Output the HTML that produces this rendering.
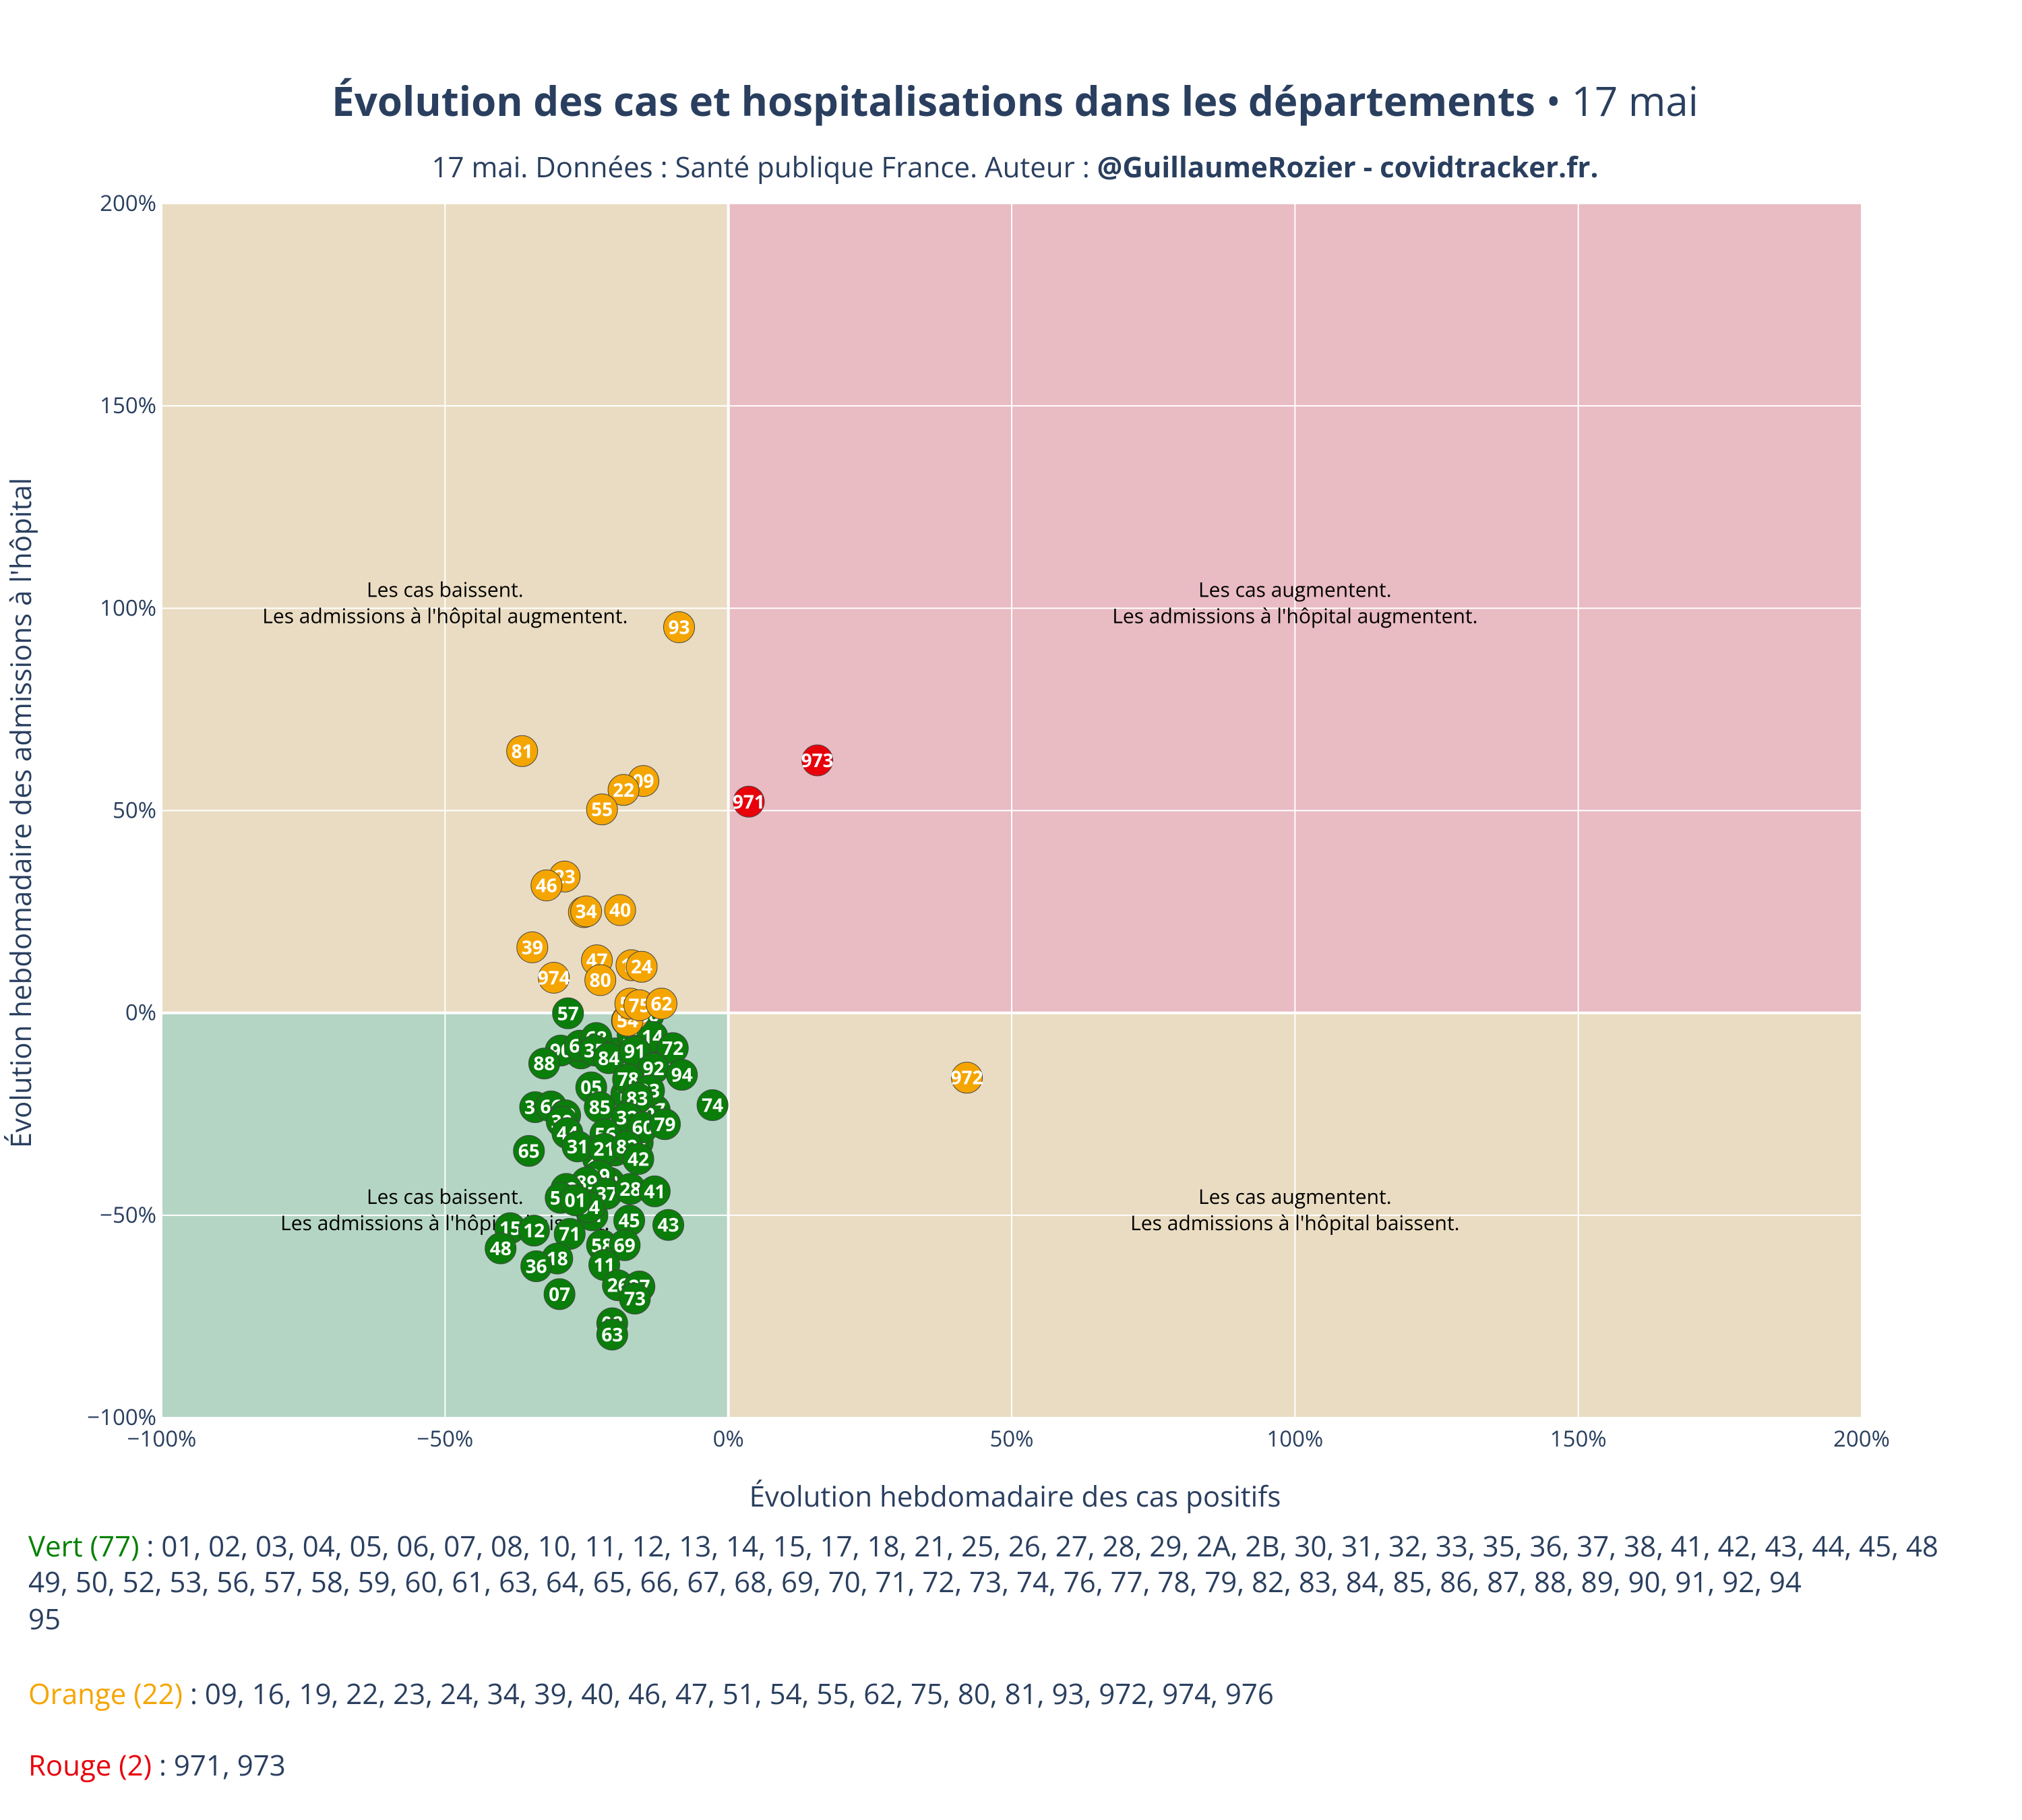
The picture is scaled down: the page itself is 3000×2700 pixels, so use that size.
<!DOCTYPE html>
<html><head><meta charset="utf-8"><style>
html,body{margin:0;padding:0;background:#fff;}
svg{display:block;font-family:"Open Sans","Liberation Sans",sans-serif;}
</style></head><body>
<svg id="chart" width="3000" height="2700" viewBox="0 0 3000 2700" xmlns="http://www.w3.org/2000/svg">
<text x="1506" y="172" text-anchor="middle" font-size="60" fill="#2a3f5f"><tspan font-weight="bold">Évolution des cas et hospitalisations dans les départements</tspan> • 17 mai</text>
<text x="1506" y="263" text-anchor="middle" font-size="42" fill="#2a3f5f">17 mai. Données : Santé publique France. Auteur : <tspan font-weight="bold">@GuillaumeRozier - covidtracker.fr.</tspan></text>
<g id="bg"></g><g id="grid"></g><g id="ann"></g><g id="marks"></g><g id="ticks"></g>
<text x="1506" y="2235" text-anchor="middle" font-size="42" fill="#2a3f5f">Évolution hebdomadaire des cas positifs</text>
<text transform="translate(46,1206) rotate(-90)" text-anchor="middle" font-size="42" fill="#2a3f5f">Évolution hebdomadaire des admissions à l'hôpital</text>
<g font-size="42" fill="#2a3f5f">
<text x="42" y="2309"><tspan fill="#008000">Vert (77)</tspan> : 01, 02, 03, 04, 05, 06, 07, 08, 10, 11, 12, 13, 14, 15, 17, 18, 21, 25, 26, 27, 28, 29, 2A, 2B, 30, 31, 32, 33, 35, 36, 37, 38, 41, 42, 43, 44, 45, 48</text>
<text x="42" y="2362">49, 50, 52, 53, 56, 57, 58, 59, 60, 61, 63, 64, 65, 66, 67, 68, 69, 70, 71, 72, 73, 74, 76, 77, 78, 79, 82, 83, 84, 85, 86, 87, 88, 89, 90, 91, 92, 94</text>
<text x="42" y="2417">95</text>
<text x="42" y="2528"><tspan fill="#f5a500">Orange (22)</tspan> : 09, 16, 19, 22, 23, 24, 34, 39, 40, 46, 47, 51, 54, 55, 62, 75, 80, 81, 93, 972, 974, 976</text>
<text x="42" y="2634"><tspan fill="#e8000b">Rouge (2)</tspan> : 971, 973</text>
</g>
</svg>
<script>
const xTicks=[-100,-50,0,50,100,150,200];
const yTicks=[-100,-50,0,50,100,150,200];
const greenLabels=["03","06","10","13","17","25","2A","2B","49","50","53","59","61","67","77","87","57","86","76","95","14","72","90","64","68","35","84","91","88","92","78","94","33","05","83","38","66","70","30","85","74","32","60","79","44","56","31","21","82","42","65","29","89","37","28","41","02","52","04","01","45","43","15","12","71","48","58","69","18","36","11","26","27","73","07","08","63"];
const greenX=[-17,-20,-25,-18,-16,-23,-21,-26,-14,-19,-22,-15,-24,-13,-20,-18,-28.3,-14.1,-17.9,-16.9,-13.4,-9.8,-29.6,-26.2,-23.3,-23.6,-21.1,-16.5,-32.5,-13.2,-17.7,-8.2,-14.0,-24.2,-16.1,-34.1,-31.3,-28.8,-29.4,-22.7,-2.8,-17.9,-15.1,-11.2,-28.4,-21.7,-26.6,-21.9,-17.9,-15.9,-35.2,-22.8,-25.0,-21.5,-17.3,-13.0,-28.6,-29.6,-24.6,-27.0,-17.5,-10.6,-38.5,-34.3,-28.0,-40.2,-22.3,-18.3,-30.2,-33.9,-21.9,-19.5,-15.7,-16.5,-29.8,-20.5,-20.5];
const greenY=[-3,-10,-47,-20,-32,-36,-42,-10,-8,-30,-44,-18,-50,-24,-34,-12,-0.1,-0.5,-1.9,-5.3,-5.9,-8.7,-9.3,-8.1,-6.2,-9.3,-11.2,-9.5,-12.5,-13.7,-16.4,-15.3,-19.2,-18.4,-21.1,-23.3,-23.1,-25.3,-26.9,-23.3,-22.8,-25.9,-28.3,-27.5,-29.7,-30.0,-33.0,-33.6,-33.0,-36.1,-34.1,-40.2,-41.9,-44.7,-43.5,-44.1,-43.5,-45.7,-48.0,-46.3,-51.3,-52.4,-53.2,-53.8,-54.6,-58.2,-57.4,-57.4,-60.7,-62.6,-62.3,-67.3,-67.6,-70.6,-69.5,-76.7,-79.5];
const orangeLabels=["93","81","09","22","55","23","46","19","34","40","39","47","16","24","974","80","976","54","51","75","62","972"];
const orangeX=[-8.7,-36.4,-15.0,-18.5,-22.3,-28.9,-32.1,-25.5,-25.1,-19.1,-34.6,-23.2,-17.1,-15.3,-30.8,-22.6,-16.9,-17.8,-17.3,-15.7,-11.8,42.1];
const orangeY=[95.3,64.7,57.3,55.1,50.3,33.7,31.5,24.9,25.1,25.4,16.2,13.0,11.8,11.4,8.7,8.1,-0.6,-1.9,2.3,1.9,2.3,-16.0];
const redLabels=["973","971"];
const redX=[15.7,3.6];
const redY=[62.4,52.2];

const L=240,R=2762,T=302,B=2103;
const sx=v=>L+(v+100)/300*(R-L);
const sy=v=>B-(v+100)/300*(B-T);
const NS="http://www.w3.org/2000/svg";
function mk(tag,attrs,parent,txt){const e=document.createElementNS(NS,tag);for(const k in attrs)e.setAttribute(k,attrs[k]);if(txt!==undefined)e.textContent=txt;parent.appendChild(e);return e;}
const bg=document.getElementById('bg'),grid=document.getElementById('grid'),ann=document.getElementById('ann'),marks=document.getElementById('marks'),ticks=document.getElementById('ticks');
let r;
r=mk('rect',{x:sx(-100),y:sy(200),width:sx(0)-sx(-100),height:sy(0)-sy(200),fill:'#e9dcc2'},bg);

r=mk('rect',{x:sx(0),y:sy(200),width:sx(200)-sx(0),height:sy(0)-sy(200),fill:'#e9bbc3'},bg);

r=mk('rect',{x:sx(-100),y:sy(0),width:sx(0)-sx(-100),height:sy(-100)-sy(0),fill:'#b4d5c4'},bg);

r=mk('rect',{x:sx(0),y:sy(0),width:sx(200)-sx(0),height:sy(-100)-sy(0),fill:'#e9dcc2'},bg);

xTicks.forEach(v=>{
  const l=mk('line',{x1:sx(v),x2:sx(v),y1:T,y2:B,stroke:'#fff','stroke-width':v===0?4:2},grid);
  
  const t=mk('text',{x:sx(v),y:B+43,'text-anchor':'middle','font-size':33,fill:'#2a3f5f'},ticks,(v<0?'\u2212'+(-v):v)+'%');
  
});
yTicks.forEach(v=>{
  const l=mk('line',{x1:L,x2:R,y1:sy(v),y2:sy(v),stroke:'#fff','stroke-width':v===0?4:2},grid);
  
  const t=mk('text',{x:L-8,y:sy(v)+11,'text-anchor':'end','font-size':33,fill:'#2a3f5f'},ticks,(v<0?'\u2212'+(-v):v)+'%');
  
});
const anns=[[-50,100,"Les cas baissent.","Les admissions à l'hôpital augmentent."],[100,100,"Les cas augmentent.","Les admissions à l'hôpital augmentent."],[-50,-50,"Les cas baissent.","Les admissions à l'hôpital baissent."],[100,-50,"Les cas augmentent.","Les admissions à l'hôpital baissent."]];
anns.forEach(a=>{
  const t=mk('text',{x:sx(a[0]),y:sy(a[1])-17,'text-anchor':'middle','font-size':30,fill:'#000'},ann);
  
  mk('tspan',{x:sx(a[0]),dy:0},t,a[2]);
  mk('tspan',{x:sx(a[0]),dy:39},t,a[3]);
});
function series(labels,xs,ys,fill,name){
  labels.forEach((lab,i)=>{
    const g=mk('g',{},marks);
    
    
    mk('circle',{cx:sx(xs[i]),cy:sy(ys[i]),r:23,fill:fill,stroke:'#444','stroke-width':1},g);
    mk('text',{x:sx(xs[i]),y:sy(ys[i])+10,'text-anchor':'middle','font-size':28,'font-weight':'bold',fill:'#fff'},g,lab);
  });
}
series(greenLabels,greenX,greenY,'#0a7d0a','green');
series(orangeLabels,orangeX,orangeY,'#f5a500','orange');
series(redLabels,redX,redY,'#e8000b','red');
</script>
</body></html>
